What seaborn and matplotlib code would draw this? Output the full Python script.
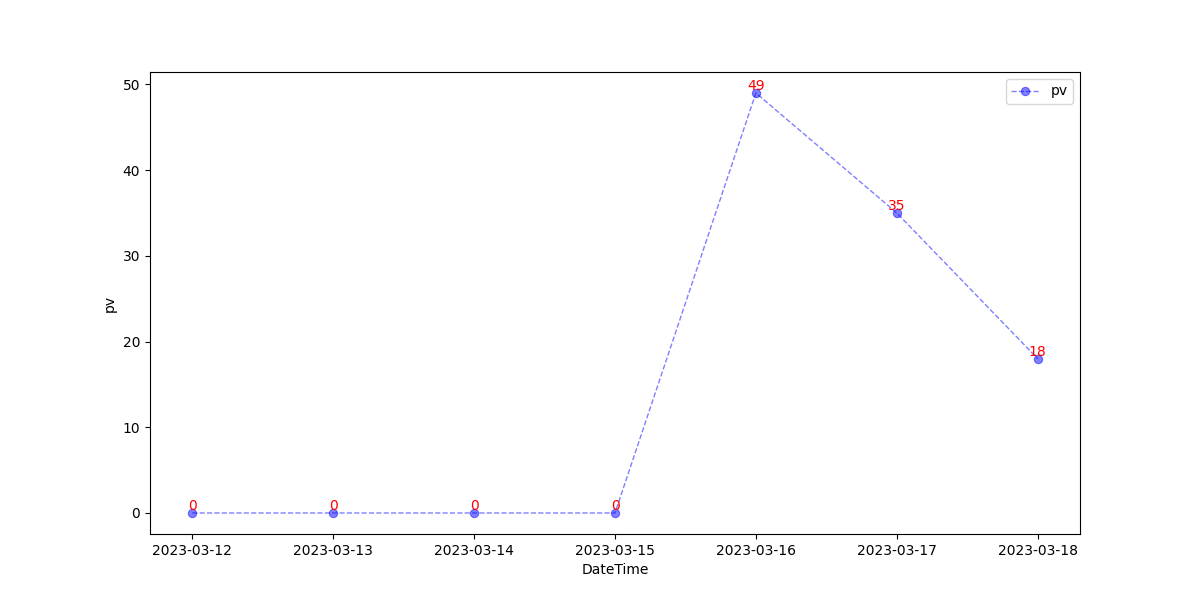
import matplotlib
matplotlib.use('Agg')
import matplotlib.pyplot as plt
import seaborn as sns
import pandas as pd

dates = ['2023-03-12', '2023-03-13', '2023-03-14', '2023-03-15',
         '2023-03-16', '2023-03-17', '2023-03-18']
pv = [0, 0, 0, 0, 49, 35, 18]

df = pd.DataFrame({'DateTime': dates, 'pv': pv})

plt.style.use('default')
fig, ax = plt.subplots(figsize=(12, 6), dpi=100)
sns.lineplot(data=df, x='DateTime', y='pv', ax=ax, color='blue', alpha=0.5,
             linestyle='--', linewidth=1, marker='o', markersize=6,
             markeredgecolor='blue', label='pv')

# value labels above points
for x, y in zip(df['DateTime'], df['pv']):
    ax.text(x, y, str(y), color='red', ha='center', va='bottom', fontsize=10)

ax.set_xlabel('DateTime')
ax.set_ylabel('pv')
ax.legend(loc='upper right')
fig.savefig('out.png')
